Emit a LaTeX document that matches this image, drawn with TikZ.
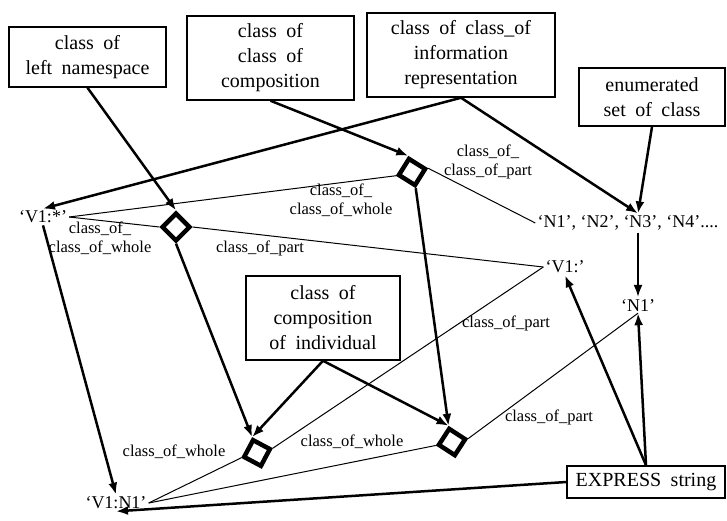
\documentclass[tikz,border=0pt]{standalone}
\usepackage{fontspec}
\setmainfont{Liberation Serif}
\newfontfamily\boxfont[WordSpace=1.9]{Liberation Serif}
\usetikzlibrary{arrows.meta,calc}
\begin{document}
\begin{tikzpicture}[x=1pt,y=-1pt,
  box/.style={draw,line width=1.5pt,align=center,inner sep=0pt,font=\boxfont\fontsize{20}{25}\selectfont},
  rel/.style={draw,line width=4.5pt,minimum size=19pt,inner sep=0pt},
  val/.style={inner sep=2pt,font=\fontsize{18}{20}\selectfont},
  lab/.style={align=center,inner sep=0pt,font=\fontsize{16.5}{19}\selectfont},
  thickarrow/.style={line width=2.5pt,-{Latex[length=12pt,width=9pt]}},
  thinline/.style={line width=1pt},
]
\useasboundingbox (0,0) rectangle (727,520);

% boxes
\node[box,minimum width=157pt,minimum height=60pt] (ns) at (87.5,57) {class of\\left namespace};
\node[box,minimum width=167pt,minimum height=84pt] (ccc) at (270.5,58) {class of\\class of\\composition};
\node[box,minimum width=188pt,minimum height=84pt] (info) at (461,55) {class of class\_of\\information\\representation};
\node[box,minimum width=146pt,minimum height=58pt] (enum) at (652,97) {enumerated\\set of class};
\node[box,minimum width=154pt,minimum height=84pt] (ind) at (323,318) {class of\\composition\\of individual};
\node[box,minimum width=158pt,minimum height=32pt] (expr) at (646,482) {EXPRESS string};

% values
\node[val] (v1s) at (43,217) {‘V1:*’};
\node[val] (nl) at (628,223) {‘N1’, ‘N2’, ‘N3’, ‘N4’....};
\node[val] (v1c) at (565,267) {‘V1:’};
\node[val] (n1) at (638,305) {‘N1’};
\node[val] (v1n1) at (116,503) {‘V1:N1’};

% relationship diamonds
\node[rel,rotate=45] (d1) at (176,227) {};
\node[rel,rotate=-32] (d2) at (412,172) {};
\node[rel,rotate=-28] (d3) at (257,453) {};
\node[rel,rotate=-33] (d4) at (452,442) {};

% role lines
\draw[thinline] (v1s.east) -- (d1.north west);
\draw[thinline] (v1s.east) -- (d2.south west);
\draw[thinline] (d1.south east) -- (v1c.west);
\draw[thinline] (d2.north east) -- (nl.west);
\draw[thinline] (d3.north east) -- (v1c.west);
\draw[thinline] (d3.south west) -- (v1n1.east);
\draw[thinline] (d4.south west) -- (v1n1.east);
\draw[thinline] (d4.north east) -- (n1.south);

% classification arrows
\draw[thickarrow] (ns.south) -- (d1.north east);
\draw[thickarrow] (ccc.south) -- (d2.north west);
\draw[thickarrow] (d1.south west) -- (d3.north west);
\draw[thickarrow] (d2.south east) -- (d4.north west);
\draw[thickarrow] (info.south) -- (v1s.north);
\draw[thickarrow] (info.south) -- (nl.north -| n1.north);
\draw[thickarrow] (enum.south) -- (nl.north -| n1.north);
\draw[thickarrow,line width=1.6pt] (nl.south -| n1.north) -- (n1.north);
\draw[thickarrow] (v1s.south) -- (v1n1.north);
\draw[thickarrow] (ind.south) -- (d3.north west);
\draw[thickarrow] (ind.south) -- (d4.north west);
\draw[thickarrow] (expr.north) -- (v1c.south);
\draw[thickarrow] (expr.north) -- (n1.south);
\draw[thickarrow] (expr.west) -- (v1n1.south);

% role labels
\node[lab] (l1) at (100,238) {class\_of\_\\class\_of\_whole};
\node[lab] (l2) at (260,248) {class\_of\_part};
\node[lab] (l3) at (341,200) {class\_of\_\\class\_of\_whole};
\node[lab] (l4) at (488,162) {class\_of\_\\class\_of\_part};
\node[lab] (l5) at (506,323) {class\_of\_part};
\node[lab] (l6) at (174,452) {class\_of\_whole};
\node[lab] (l7) at (352,442) {class\_of\_whole};
\node[lab] (l8) at (549,417) {class\_of\_part};
\end{tikzpicture}
\end{document}
